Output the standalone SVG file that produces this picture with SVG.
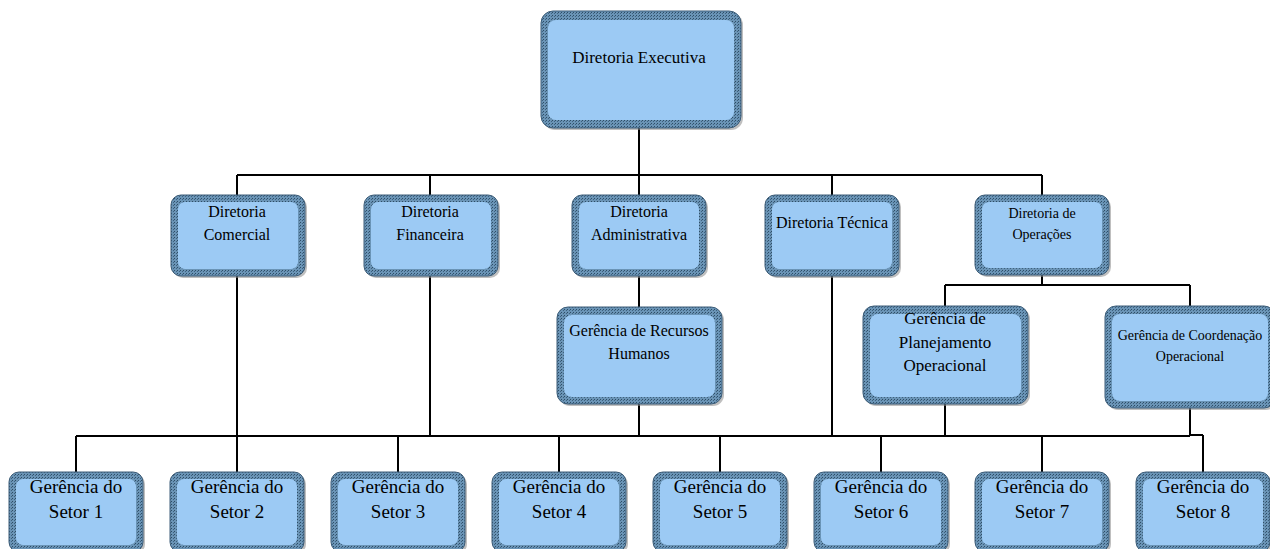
<svg xmlns="http://www.w3.org/2000/svg" width="1270" height="549" viewBox="0 0 1270 549">
<style>
.sh{fill:#8a8a8a;opacity:0.55}
.ring{fill:url(#dither);stroke:#3d5d78;stroke-width:1}
.in{fill:#9ccaf4}
.t{font-family:"Liberation Serif","Times New Roman",serif;fill:#000;text-anchor:middle}
.f17{font-size:17px}
.f16{font-size:16px}
.f14{font-size:14px}
.f19{font-size:19px}
.c{stroke:#000;stroke-width:2;fill:none}
</style>
<defs>
<pattern id="dither" width="3" height="3" patternUnits="userSpaceOnUse">
<rect width="3" height="3" fill="#6a94b6"/>
<rect width="1" height="1" fill="#2e4d66"/>
<rect x="2" y="1" width="1" height="1" fill="#3f627f"/>
</pattern>
</defs>
<g id="connectors">
<path class="c" d="M639 128V175M237 175H1042M237 175V195M430 175V195M639 175V195M832 175V195M1042 175V195"/>
<path class="c" d="M639 276V307"/>
<path class="c" d="M1042 275V285M945 285H1190M945 285V306M1190 285V306"/>
<path class="c" d="M76 436H1190M1190 435H1203"/>
<path class="c" d="M237 276V436M430 276V436M639 404V436M832 276V436M945 404V436M1190 408V436"/>
<path class="c" d="M76 436V472M237 436V472M398 436V472M559 436V472M720 436V472M881 436V472M1042 436V472M1203 435V472"/>
</g>
<g id="n-executiva">
<rect class="sh" x="543" y="13" width="200" height="117" rx="12"/>
<rect class="ring" x="541" y="11" width="200" height="117" rx="12"/>
<rect class="in" x="548" y="20" width="186" height="100" rx="8"/>
<text class="t f17" x="639" y="63">Diretoria Executiva</text>
</g>
<g id="n-comercial">
<rect class="sh" x="173" y="197" width="134" height="81" rx="10"/>
<rect class="ring" x="171" y="195" width="134" height="81" rx="10"/>
<rect class="in" x="178" y="202" width="120" height="67" rx="7"/>
<text class="t f16" x="237" y="217">Diretoria</text>
<text class="t f16" x="237" y="240">Comercial</text>
</g>
<g id="n-financeira">
<rect class="sh" x="366" y="197" width="134" height="81" rx="10"/>
<rect class="ring" x="364" y="195" width="134" height="81" rx="10"/>
<rect class="in" x="371" y="202" width="120" height="67" rx="7"/>
<text class="t f16" x="430" y="217">Diretoria</text>
<text class="t f16" x="430" y="240">Financeira</text>
</g>
<g id="n-administrativa">
<rect class="sh" x="574" y="197" width="134" height="81" rx="10"/>
<rect class="ring" x="572" y="195" width="134" height="81" rx="10"/>
<rect class="in" x="579" y="202" width="120" height="67" rx="7"/>
<text class="t f16" x="639" y="217">Diretoria</text>
<text class="t f16" x="639" y="240">Administrativa</text>
</g>
<g id="n-tecnica">
<rect class="sh" x="767" y="197" width="134" height="81" rx="10"/>
<rect class="ring" x="765" y="195" width="134" height="81" rx="10"/>
<rect class="in" x="772" y="202" width="120" height="67" rx="7"/>
<text class="t f16" x="832" y="228">Diretoria Técnica</text>
</g>
<g id="n-operacoes">
<rect class="sh" x="977" y="197" width="134" height="80" rx="10"/>
<rect class="ring" x="975" y="195" width="134" height="80" rx="10"/>
<rect class="in" x="982" y="202" width="120" height="66" rx="7"/>
<text class="t f14" x="1042" y="218">Diretoria de</text>
<text class="t f14" x="1042" y="239">Operações</text>
</g>
<g id="n-rh">
<rect class="sh" x="559" y="309" width="165" height="97" rx="11"/>
<rect class="ring" x="557" y="307" width="165" height="97" rx="11"/>
<rect class="in" x="564" y="315" width="151" height="82" rx="8"/>
<text class="t f16" x="639" y="336">Gerência de Recursos</text>
<text class="t f16" x="639" y="359">Humanos</text>
</g>
<g id="n-planejamento">
<rect class="sh" x="865" y="308" width="165" height="98" rx="11"/>
<rect class="ring" x="863" y="306" width="165" height="98" rx="11"/>
<rect class="in" x="870" y="314" width="151" height="83" rx="8"/>
<text class="t f17" x="945" y="324">Gerência de</text>
<text class="t f17" x="945" y="348">Planejamento</text>
<text class="t f17" x="945" y="371">Operacional</text>
</g>
<g id="n-coordenacao">
<rect class="sh" x="1107" y="308" width="170" height="102" rx="11"/>
<rect class="ring" x="1105" y="306" width="170" height="102" rx="11"/>
<rect class="in" x="1112" y="314" width="156" height="87" rx="8"/>
<text class="t f14" x="1190" y="340">Gerência de Coordenação</text>
<text class="t f14" x="1190" y="361">Operacional</text>
</g>
<g id="n-setor1">
<rect class="sh" x="11" y="474" width="134" height="80" rx="10"/>
<rect class="ring" x="9" y="472" width="134" height="80" rx="10"/>
<rect class="in" x="16" y="479" width="120" height="66" rx="7"/>
<text class="t f19" x="76" y="493">Gerência do</text>
<text class="t f19" x="76" y="518">Setor 1</text>
</g>
<g id="n-setor2">
<rect class="sh" x="172" y="474" width="134" height="80" rx="10"/>
<rect class="ring" x="170" y="472" width="134" height="80" rx="10"/>
<rect class="in" x="177" y="479" width="120" height="66" rx="7"/>
<text class="t f19" x="237" y="493">Gerência do</text>
<text class="t f19" x="237" y="518">Setor 2</text>
</g>
<g id="n-setor3">
<rect class="sh" x="333" y="474" width="134" height="80" rx="10"/>
<rect class="ring" x="331" y="472" width="134" height="80" rx="10"/>
<rect class="in" x="338" y="479" width="120" height="66" rx="7"/>
<text class="t f19" x="398" y="493">Gerência do</text>
<text class="t f19" x="398" y="518">Setor 3</text>
</g>
<g id="n-setor4">
<rect class="sh" x="494" y="474" width="134" height="80" rx="10"/>
<rect class="ring" x="492" y="472" width="134" height="80" rx="10"/>
<rect class="in" x="499" y="479" width="120" height="66" rx="7"/>
<text class="t f19" x="559" y="493">Gerência do</text>
<text class="t f19" x="559" y="518">Setor 4</text>
</g>
<g id="n-setor5">
<rect class="sh" x="655" y="474" width="134" height="80" rx="10"/>
<rect class="ring" x="653" y="472" width="134" height="80" rx="10"/>
<rect class="in" x="660" y="479" width="120" height="66" rx="7"/>
<text class="t f19" x="720" y="493">Gerência do</text>
<text class="t f19" x="720" y="518">Setor 5</text>
</g>
<g id="n-setor6">
<rect class="sh" x="816" y="474" width="134" height="80" rx="10"/>
<rect class="ring" x="814" y="472" width="134" height="80" rx="10"/>
<rect class="in" x="821" y="479" width="120" height="66" rx="7"/>
<text class="t f19" x="881" y="493">Gerência do</text>
<text class="t f19" x="881" y="518">Setor 6</text>
</g>
<g id="n-setor7">
<rect class="sh" x="977" y="474" width="134" height="80" rx="10"/>
<rect class="ring" x="975" y="472" width="134" height="80" rx="10"/>
<rect class="in" x="982" y="479" width="120" height="66" rx="7"/>
<text class="t f19" x="1042" y="493">Gerência do</text>
<text class="t f19" x="1042" y="518">Setor 7</text>
</g>
<g id="n-setor8">
<rect class="sh" x="1138" y="474" width="134" height="80" rx="10"/>
<rect class="ring" x="1136" y="472" width="134" height="80" rx="10"/>
<rect class="in" x="1143" y="479" width="120" height="66" rx="7"/>
<text class="t f19" x="1203" y="493">Gerência do</text>
<text class="t f19" x="1203" y="518">Setor 8</text>
</g>
</svg>
